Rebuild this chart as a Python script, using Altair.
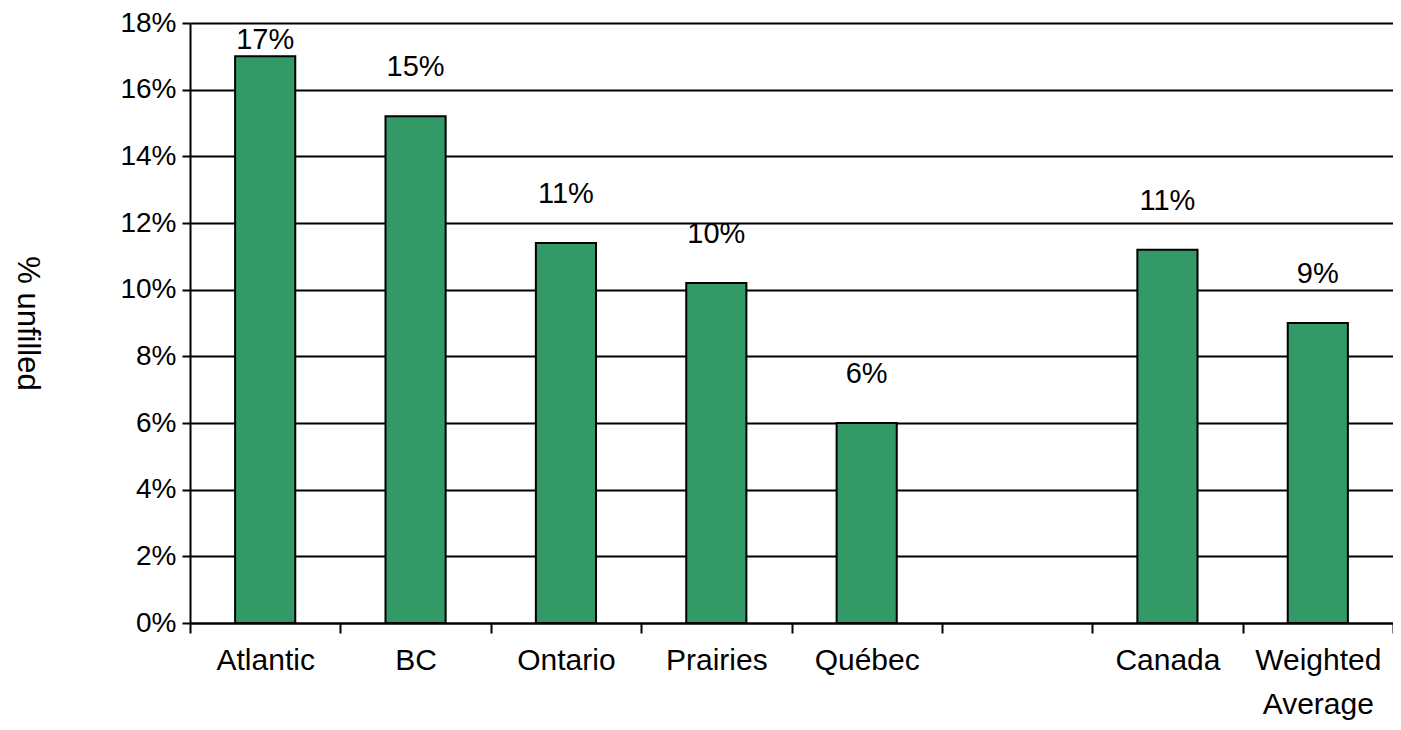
import altair as alt
import pandas as pd

# Category slots (the sixth slot is an empty gap in the original chart)
categories = ["Atlantic", "BC", "Ontario", "Prairies", "Québec", " ", "Canada", "Weighted Average"]
bar_regions = ["Atlantic", "BC", "Ontario", "Prairies", "Québec", "Canada", "Weighted Average"]
unfilled_share = [0.170, 0.152, 0.114, 0.102, 0.060, 0.112, 0.090]
y_tick_values = [0.00, 0.02, 0.04, 0.06, 0.08, 0.10, 0.12, 0.14, 0.16, 0.18]

df = pd.DataFrame({"region": bar_regions, "unfilled": unfilled_share})

FONT = "Liberation Sans"

x_scale = alt.Scale(domain=categories, paddingInner=0, paddingOuter=0)

x_enc = alt.X(
    "region:N",
    sort=categories,
    scale=x_scale,
    axis=alt.Axis(
        title=None,
        labelAngle=0,
        tickBand="extent",
        labelExpr="datum.value == 'Weighted Average' ? ['Weighted', 'Average'] : datum.value",
        labelFont=FONT,
        labelFontSize=30,
        labelColor="black",
        labelPadding=12,
        labelLineHeight=44,
        domainColor="black",
        domainWidth=2,
        tickColor="black",
        tickWidth=2,
        tickSize=10,
        grid=False,
    ),
)

y_scale = alt.Scale(domain=[0, 0.18], nice=False, zero=True)

bars = alt.Chart(df).mark_bar(
    color="#339966", stroke="black", strokeWidth=2, width=alt.RelativeBandSize(0.4)
).encode(
    x=x_enc,
    y=alt.Y(
        "unfilled:Q",
        scale=y_scale,
        axis=alt.Axis(
            title="% unfilled",
            titleFont=FONT,
            titleFontSize=31,
            titleFontWeight="normal",
            titleColor="black",
            titleAngle=90,
            titleX=-164,
            titleY=300,
            titleAlign="center",
            titleBaseline="middle",
            values=y_tick_values,
            format=".0%",
            labelFont=FONT,
            labelFontSize=28,
            labelColor="black",
            labelPadding=6,
            grid=True,
            gridColor="black",
            gridWidth=2,
            domainColor="black",
            domainWidth=2,
            tickColor="black",
            tickWidth=2,
            tickSize=8,
        ),
    ),
)

labels = (
    alt.Chart(df)
    .transform_calculate(label_y="min(datum.unfilled + 0.0147, 0.175)")
    .mark_text(font=FONT, fontSize=29, color="black", baseline="middle", align="center")
    .encode(
        x=alt.X("region:N", sort=categories, scale=x_scale),
        y=alt.Y("label_y:Q", scale=y_scale),
        text=alt.Text("unfilled:Q", format=".0%"),
    )
)

chart = (
    alt.layer(bars, labels)
    .properties(
        width=1203,
        height=600,
        autosize=alt.AutoSizeParams(type="none"),
        padding={"left": 182, "top": 15, "right": 0, "bottom": 99},
        background="white",
    )
    .configure_view(stroke=None)
)

chart.save("out.html", embed_options={"renderer": "svg", "actions": False})
